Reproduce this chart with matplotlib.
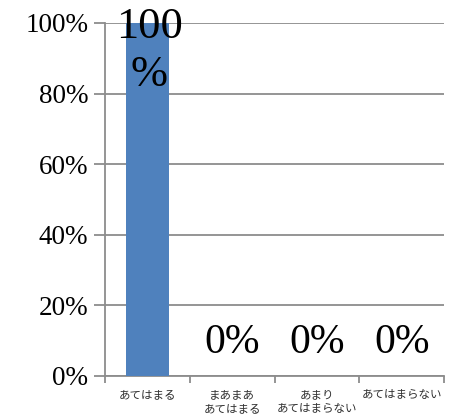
import numpy as np
import matplotlib.pyplot as plt

categories = ['あてはまる', 'まあまあ\nあてはまる', 'あまり\nあてはまらない', 'あてはまらない']
values = [100, 0, 0, 0]
labels = ['100\n%', '0%', '0%', '0%']
yticks = [0, 20, 40, 60, 80, 100]

serif = 'Liberation Serif'
jp = ['Noto Sans CJK JP', 'DejaVu Sans']
grid_c = '#8c8c8c'

fig = plt.figure(figsize=(4.51, 4.15), dpi=100)
ax = fig.add_axes([0.2328, 0.094, 0.752, 0.8506])

x = np.arange(len(categories))
ax.bar(x, values, width=0.51, color='#4f81bd', zorder=3)

ax.set_xlim(-0.5, len(categories) - 0.5)
ax.set_ylim(0, 100)
ax.set_yticks(yticks)
ax.set_yticklabels([f'{v}%' for v in yticks], fontfamily=serif, fontsize=19.5)
ax.yaxis.grid(True, color=grid_c, linewidth=1.3, zorder=0)
ax.tick_params(axis='y', length=8, width=1.3, color=grid_c, pad=4)

# category ticks sit on the boundaries, labels in between
ax.set_xticks(np.arange(len(categories) + 1) - 0.5)
ax.set_xticklabels([])
ax.set_xticks(x, minor=True)
ax.set_xticklabels(categories, minor=True, fontfamily=jp, fontsize=8.3,
                   color='#303030', linespacing=1.05)
ax.tick_params(axis='x', which='major', length=5, width=1.3, color=grid_c)
ax.tick_params(axis='x', which='minor', length=0, pad=9)

for s in ['top', 'right']:
    ax.spines[s].set_visible(False)
for s in ['left', 'bottom']:
    ax.spines[s].set_color(grid_c)
    ax.spines[s].set_linewidth(1.3)

for i, (v, lab) in enumerate(zip(values, labels)):
    if v > 0:
        ax.annotate(lab, (i, v), xytext=(2, 16), textcoords='offset pixels',
                    ha='center', va='top', fontfamily=serif, fontsize=32,
                    linespacing=1.25, zorder=4)
    else:
        ax.annotate(lab, (i, v), xytext=(0, 14), textcoords='offset pixels',
                    ha='center', va='bottom', fontfamily=serif, fontsize=30,
                    zorder=4)

fig.savefig('out.png', dpi=100)
